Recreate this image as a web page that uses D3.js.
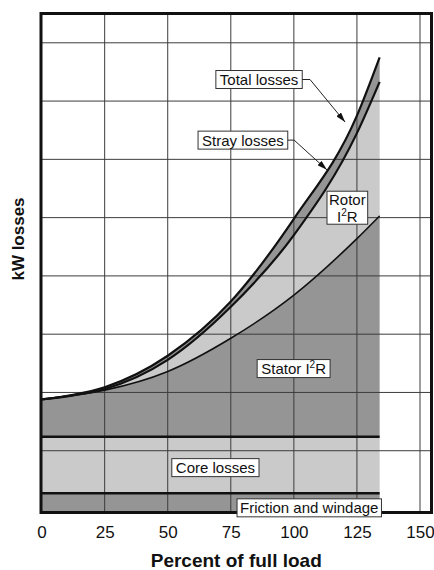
<!DOCTYPE html>
<html lang="en">
<head>
<meta charset="utf-8">
<script src="https://cdn.jsdelivr.net/npm/d3@7"></script>
<style>
  body { margin: 0; background: #fff; }
  text { font-family: "Liberation Sans", Arial, Helvetica, sans-serif; fill: #111; }
</style>
</head>
<body>
<script>
// percent of full load
const load = [0, 12.5, 25, 50, 75, 100, 125, 134];
// cumulative kW losses (top of each band)
const frictionTop = 0.27;
const coreTop = 1.24;
const statorTop = [1.88, 1.95, 2.04, 2.36, 2.93, 3.67, 4.64, 5.03];
const rotorTop  = [1.88, 1.95, 2.06, 2.56, 3.47, 4.70, 6.45, 7.33];
const totalTop  = [1.88, 1.96, 2.09, 2.63, 3.56, 4.98, 6.75, 7.75];
const xTicks = [0, 25, 50, 75, 100, 125, 150];
const yGrid = [1, 2, 3, 4, 5, 6, 7, 8];

const w = 434, h = 570;
const frame = {left: 41, top: 13.5, right: 431.5, bottom: 512.5};
const dark = '#959595', light = '#cacaca';

const x = d3.scaleLinear().domain([0, 150]).range([41.6, 420]);
const y = d3.scaleLinear().domain([0, 8]).range([509, 42.8]);
const yFloor = y.invert(frame.bottom);

const rows = load.map((l, i) => ({
  x: l, stator: statorTop[i], rotor: rotorTop[i], total: totalTop[i]
}));

const svg = d3.select('body').append('svg')
  .attr('width', w)
  .attr('height', h);

const band = (lo, hi) => d3.area()
  .x(d => x(d.x))
  .y0(d => y(lo(d)))
  .y1(d => y(hi(d)))
  .curve(d3.curveMonotoneX);

// stacked bands
const bands = [
  {lo: d => yFloor, hi: d => frictionTop, fill: dark},
  {lo: d => frictionTop, hi: d => coreTop, fill: light},
  {lo: d => coreTop, hi: d => d.stator, fill: dark},
  {lo: d => d.stator, hi: d => d.rotor, fill: light},
  {lo: d => d.rotor, hi: d => d.total, fill: dark}
];
svg.selectAll('path.band')
  .data(bands)
  .enter()
  .append('path')
  .attr('class', 'band')
  .attr('d', b => band(b.lo, b.hi)(rows))
  .attr('fill', b => b.fill);

// grid
svg.selectAll('line.vgrid')
  .data(xTicks.slice(1))
  .enter()
  .append('line')
  .attr('x1', d => x(d)).attr('x2', d => x(d))
  .attr('y1', frame.top).attr('y2', frame.bottom)
  .attr('stroke', '#3c3c3c').attr('stroke-width', 1);
svg.selectAll('line.hgrid')
  .data(yGrid)
  .enter()
  .append('line')
  .attr('x1', frame.left).attr('x2', frame.right)
  .attr('y1', d => y(d)).attr('y2', d => y(d))
  .attr('stroke', '#3c3c3c').attr('stroke-width', 1);

// boundary lines
const flat = [frictionTop, coreTop];
svg.selectAll('line.flat')
  .data(flat)
  .enter()
  .append('line')
  .attr('x1', x(0)).attr('x2', x(load[load.length - 1]))
  .attr('y1', d => y(d)).attr('y2', d => y(d))
  .attr('stroke', '#111').attr('stroke-width', 2.6);

const curveLine = key => d3.line()
  .x(d => x(d.x))
  .y(d => y(d[key]))
  .curve(d3.curveMonotoneX);
[['stator', 1.6], ['rotor', 2.2], ['total', 2.2]].forEach(([k, sw]) => {
  svg.append('path')
    .attr('d', curveLine(k)(rows))
    .attr('fill', 'none')
    .attr('stroke', '#111')
    .attr('stroke-width', sw);
});

// frame
svg.append('rect')
  .attr('x', frame.left).attr('y', frame.top)
  .attr('width', frame.right - frame.left)
  .attr('height', frame.bottom - frame.top)
  .attr('fill', 'none')
  .attr('stroke', '#111')
  .attr('stroke-width', 3);

// x axis labels
const xAxis = d3.axisBottom(x)
  .tickValues(xTicks)
  .tickSize(0)
  .tickPadding(13);
const gx = svg.append('g')
  .attr('transform', `translate(0,${frame.bottom})`)
  .call(xAxis);
gx.select('.domain').remove();
gx.selectAll('text')
  .style('font-size', '17px')
  .style('font-family', '"Liberation Sans", Arial, sans-serif')
  .attr('fill', '#111');

svg.append('text')
  .attr('x', (frame.left + frame.right) / 2)
  .attr('y', 567)
  .attr('text-anchor', 'middle')
  .style('font-size', '19px')
  .style('font-weight', 'bold')
  .text('Percent of full load');

svg.append('text')
  .attr('transform', 'translate(24,239) rotate(-90)')
  .attr('text-anchor', 'middle')
  .style('font-size', '17px')
  .style('font-weight', 'bold')
  .text('kW losses');

// arrow marker
svg.append('defs').append('marker')
  .attr('id', 'arr')
  .attr('viewBox', '0 0 10 6')
  .attr('refX', 10).attr('refY', 3)
  .attr('markerWidth', 10).attr('markerHeight', 6)
  .attr('markerUnits', 'userSpaceOnUse')
  .attr('orient', 'auto')
  .append('path')
  .attr('d', 'M0,0L10,3L0,6Z')
  .attr('fill', '#111');

// boxed labels: centre given in data units; a part {hi, rest} is a superscript
function label(cx, cy, lines, pad) {
  const g = svg.append('g');
  const rect = g.append('rect');
  const t = g.append('text')
    .attr('text-anchor', 'middle')
    .style('font-size', '15px');
  lines.forEach((ln, i) => {
    const ts = t.append('tspan').attr('x', x(cx)).attr('dy', i === 0 ? 0 : 17);
    ln.forEach(part => {
      if (typeof part === 'string') {
        ts.append('tspan').text(part);
      } else {
        ts.append('tspan').attr('dy', -6).style('font-size', '10px').text(part.hi);
        ts.append('tspan').attr('dy', 6).text(part.rest);
      }
    });
  });
  const n = lines.length;
  t.attr('y', y(cy) + 5.5 - (n - 1) * 8.5);
  const bb = t.node().getBBox();
  const bw = bb.width + 2 * pad;
  const bh = n * 17 - (n - 1) * 2 + 1;
  const r = {x: x(cx) - bw / 2, y: y(cy) - bh / 2, w: bw, h: bh};
  rect.attr('x', r.x).attr('y', r.y)
    .attr('width', r.w).attr('height', r.h)
    .attr('fill', '#fff')
    .attr('stroke', '#333').attr('stroke-width', 1);
  return r;
}

function leader(r, elbowX, tip) {
  const my = r.y + r.h / 2;
  svg.append('path')
    .attr('d', d3.line()([[r.x + r.w, my], [x(elbowX), my], [x(tip[0]), y(tip[1])]]))
    .attr('fill', 'none')
    .attr('stroke', '#222')
    .attr('stroke-width', 1)
    .attr('marker-end', 'url(#arr)');
}

const rTotal = label(86.2, 7.37, [['Total losses']], 4);
leader(rTotal, 106.4, [120.3, 6.64]);
const rStray = label(79.8, 6.33, [['Stray losses']], 4);
leader(rStray, 100.1, [113.1, 5.82]);
label(121.2, 5.17, [['Rotor'], ['I', {hi: '2', rest: 'R'}]], 2);
label(99.9, 2.41, [['Stator I', {hi: '2', rest: 'R'}]], 4);
label(68.9, 0.71, [['Core losses']], 4);
label(106.1, 0.02, [['Friction and windage']], 3);
</script>
</body>
</html>
